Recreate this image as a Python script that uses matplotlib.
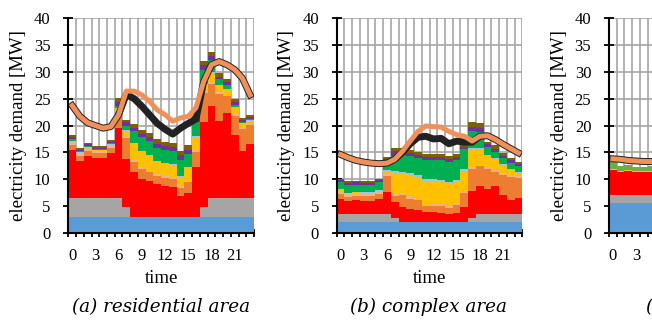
import matplotlib
matplotlib.use('Agg')
import matplotlib.pyplot as plt
import numpy as np

# hours of the day
hours = list(range(24))
tickHours = [0, 3, 6, 9, 12, 15, 18, 21]

# layer colours, bottom to top
layerColors = ['#5B9BD5', '#A5A5A5', '#FF0000', '#ED7D31', '#F4B183',
               '#FFC000', '#9DC3E6', '#00B050', '#7030A0', '#7F6000']

# (a) residential area, demand of each layer [MW]
resBlue = [3.0]*24
resGray = [3.5, 3.5, 3.5, 3.5, 3.5, 3.5, 3.5, 1.8, 0, 0, 0, 0,
           0, 0, 0, 0, 0, 1.8, 3.5, 3.5, 3.5, 3.5, 3.5, 3.5]
resRed = [9.0, 6.9, 7.9, 7.4, 7.4, 8.4, 13.1, 9.0, 8.4, 7.0, 6.6, 6.1,
          5.8, 5.5, 3.9, 4.4, 9.2, 15.9, 17.1, 14.4, 15.8, 11.8, 8.8, 10.1]
resOrange = [0.9, 0.9, 0.9, 0.9, 0.9, 0.9, 3.0, 3.8, 1.8, 2.0, 1.7, 1.5,
             1.5, 1.5, 1.5, 2.0, 2.9, 5.3, 4.1, 4.9, 3.1, 3.5, 4.0, 3.5]
resSalmon = [0.5, 0.5, 0.5, 0.5, 0.5, 0.5, 0.4, 0.4, 0.4, 0.3, 0.3, 0.3,
             0.3, 0.3, 0.3, 0.3, 0.3, 0.5, 0.3, 0.4, 0.3, 0.4, 0.5, 0.4]
resYellow = [0.1, 0.1, 0.1, 0.1, 0.1, 0.1, 0.2, 1.0, 3.0, 2.7, 2.7, 2.3,
             2.2, 2.3, 1.6, 2.4, 2.3, 1.0, 1.6, 1.1, 0.9, 1.1, 0.5, 0.4]
resLightBlue = [0.1, 0.1, 0.1, 0.1, 0.1, 0.1, 0.1, 0.1, 0.2, 0.2, 0.2, 0.2,
                0.2, 0.2, 0.3, 0.2, 0.3, 0.3, 0.3, 0.2, 0.2, 0.2, 0.1, 0.1]
resGreen = [0.3, 0.2, 0.2, 0.1, 0.1, 0.2, 0.3, 0.9, 2.1, 2.6, 2.7, 2.5,
            2.5, 2.5, 3.0, 2.4, 2.6, 2.5, 2.2, 1.1, 0.8, 0.4, 0.3, 0.2]
resPurple = [0.5, 0.3, 0.3, 0.3, 0.3, 0.3, 0.7, 0.6, 0.7, 0.7, 0.7, 0.7,
             0.7, 0.7, 0.9, 0.8, 0.6, 0.9, 0.8, 0.5, 0.5, 0.5, 0.4, 0.3]
resBrown = [0.4, 0.3, 0.2, 0.2, 0.2, 0.3, 0.9, 0.5, 0.6, 0.6, 0.7, 0.8,
            0.8, 0.8, 0.8, 0.8, 0.6, 0.8, 0.8, 0.6, 0.5, 0.5, 0.3, 0.4]
resOrangeLine = [23.7, 21.7, 20.5, 20.0, 19.5, 19.8, 22.0, 26.4, 26.4, 25.7, 24.5, 22.9,
                 22.0, 20.8, 21.4, 21.7, 23.3, 28.2, 31.3, 31.9, 31.3, 30.4, 28.8, 25.7]
resBlackLine = [23.7, 21.7, 20.5, 20.0, 19.5, 19.8, 22.0, 25.8, 25.0, 23.6, 22.0, 20.4,
                19.3, 18.4, 19.5, 20.4, 21.2, 28.2, 31.3, 31.9, 31.3, 30.4, 28.8, 25.7]

# (b) complex area
cpxBlue = [2.0]*24
cpxGray = [1.6, 1.6, 1.6, 1.6, 1.6, 1.6, 1.6, 0.8, 0, 0, 0, 0,
           0, 0, 0, 0, 0, 0.8, 1.6, 1.6, 1.6, 1.6, 1.6, 1.6]
cpxRed = [2.8, 2.3, 2.5, 2.4, 2.4, 2.8, 4.0, 2.9, 2.8, 2.4, 2.2, 2.0,
          1.9, 1.8, 1.5, 1.7, 2.8, 5.0, 5.2, 4.6, 5.1, 3.5, 2.5, 3.0]
cpxOrange = [0.8, 0.8, 0.8, 0.8, 0.8, 0.9, 3.0, 1.1, 2.2, 2.0, 1.9, 1.0,
             1.2, 1.3, 1.2, 1.5, 2.6, 4.2, 3.6, 3.7, 2.7, 3.7, 4.4, 3.6]
cpxSalmon = [0.7, 0.6, 0.6, 0.6, 0.6, 0.5, 0.5, 0.4, 0.4, 0.4, 0.3, 0.3,
             0.3, 0.3, 0.3, 0.3, 0.3, 0.3, 0.3, 0.3, 0.3, 0.4, 0.3, 0.4]
cpxYellow = [0.1, 0.1, 0.1, 0.1, 0.1, 0.1, 0.5, 4.0, 3.6, 3.9, 3.9, 4.4,
             4.3, 4.2, 4.1, 4.1, 3.9, 3.1, 2.7, 2.1, 1.9, 1.5, 0.9, 0.5]
cpxLightBlue = [0.1, 0.1, 0.1, 0.1, 0.1, 0.1, 0.2, 0.3, 0.4, 0.4, 0.4, 0.3,
                0.3, 0.3, 0.3, 0.3, 0.4, 0.4, 0.4, 0.3, 0.3, 0.2, 0.2, 0.2]
cpxGreen = [1.3, 1.4, 1.3, 1.3, 1.3, 1.4, 1.5, 2.8, 3.2, 3.2, 3.3, 3.6,
            3.6, 3.7, 3.8, 3.7, 3.6, 3.1, 3.0, 1.4, 1.2, 1.0, 1.1, 1.2]
cpxPurple = [0.4, 0.4, 0.4, 0.4, 0.4, 0.4, 0.4, 0.9, 0.6, 0.6, 0.6, 0.6,
             0.6, 0.6, 0.6, 0.6, 0.4, 0.8, 0.8, 0.5, 0.6, 0.5, 0.5, 0.4]
cpxBrown = [0.3, 0.3, 0.3, 0.3, 0.3, 0.3, 0.4, 0.7, 0.6, 0.6, 0.5, 0.5,
            0.5, 0.5, 0.5, 0.5, 0.3, 0.9, 0.9, 0.5, 0.7, 0.4, 0.4, 0.4]
cpxOrangeLine = [14.6, 14.0, 13.5, 13.2, 13.0, 12.9, 13.0, 13.7, 15.2, 17.1, 18.9, 19.9,
                 19.8, 19.7, 18.9, 18.3, 18.0, 17.1, 18.0, 18.1, 17.4, 16.5, 15.7, 14.9]
cpxBlackLine = [14.6, 14.0, 13.5, 13.2, 13.0, 12.9, 13.0, 13.7, 15.0, 16.6, 17.8, 18.0,
                17.5, 17.6, 16.6, 17.1, 16.9, 16.9, 18.0, 18.1, 17.4, 16.5, 15.7, 14.9]

# (c) third area, only the first hours are inside the picture
thirdHours = [0, 1, 2, 3, 4, 5, 6]
thirdBlue = [5.6, 5.6, 5.6, 5.6, 5.6, 5.6, 5.6]
thirdGray = [1.5, 1.5, 1.5, 1.5, 1.5, 1.5, 1.5]
thirdRed = [4.6, 4.3, 4.5, 4.2, 4.2, 4.3, 4.4]
thirdYellow = [0.2, 0.2, 0.2, 0.2, 0.2, 0.2, 0.2]
thirdGreen = [1.3, 0.8, 0.8, 0.8, 0.8, 0.9, 0.9]
thirdOrangeLine = [13.8, 13.7, 13.5, 13.4, 13.3, 13.3, 13.2]
thirdBlackLine = [13.8, 13.7, 13.5, 13.4, 13.3, 13.3, 13.2]
thirdColors = ['#5B9BD5', '#A5A5A5', '#FF0000', '#FFC000', '#70AD47']


def drawPanel(ax, x, layers, colors, orangeLine, blackLine):
    """
    Draw one stacked demand panel with the two demand lines on top
    """
    ax.set_axisbelow(True)
    bottom = np.zeros(len(x))
    for values, color in zip(layers, colors):
        ax.bar(x, values, width=1.0, bottom=bottom, color=color, linewidth=0, zorder=2)
        bottom = bottom + np.array(values)

    # black line first so that it shows as an outline of the orange one
    ax.plot(x, blackLine, color='#222222', linewidth=5.0, solid_joinstyle='round', zorder=3)
    ax.plot(x, orangeLine, color='#F0905A', linewidth=3.6, solid_joinstyle='round', zorder=4)

    ax.set_xlim(-0.5, 23.5)
    ax.set_ylim(0, 40)
    ax.set_yticks(range(0, 41, 5))
    ax.set_xticks(np.arange(-0.5, 24, 1.0))
    ax.set_xticklabels([])
    ax.set_xticks(tickHours, minor=True)
    ax.set_xticklabels([str(h) for h in tickHours], minor=True)

    ax.tick_params(axis='x', which='major', direction='inout', length=5.5, width=1.3)
    ax.tick_params(axis='x', which='minor', length=0, pad=11, labelsize=12)
    ax.tick_params(axis='y', direction='inout', length=7.5, width=1.3, pad=9, labelsize=12)

    ax.grid(True, which='major', color='#A6A6A6', linewidth=1.2)
    for side in ['top', 'right']:
        ax.spines[side].set_visible(False)
    for side in ['left', 'bottom']:
        ax.spines[side].set_linewidth(1.5)
        ax.spines[side].set_zorder(5)

    ax.set_ylabel('electricity demand [MW]', fontsize=13.5)
    ax.yaxis.set_label_coords(-0.222, 0.5)
    ax.set_xlabel('time', fontsize=13.5)
    ax.xaxis.set_label_coords(0.5, -0.17)


def main():
    plt.rcParams['font.family'] = ['Liberation Serif', 'DejaVu Serif']
    fig = plt.figure(figsize=(6.52, 3.2), dpi=100)

    width = 185.7/652
    height = 215/320
    bottom = 87/320

    axA = fig.add_axes([68.3/652, bottom, width, height])
    drawPanel(axA, hours,
              [resBlue, resGray, resRed, resOrange, resSalmon, resYellow,
               resLightBlue, resGreen, resPurple, resBrown],
              layerColors, resOrangeLine, resBlackLine)

    axB = fig.add_axes([336.7/652, bottom, width, height])
    drawPanel(axB, hours,
              [cpxBlue, cpxGray, cpxRed, cpxOrange, cpxSalmon, cpxYellow,
               cpxLightBlue, cpxGreen, cpxPurple, cpxBrown],
              layerColors, cpxOrangeLine, cpxBlackLine)

    axC = fig.add_axes([609/652, bottom, width, height])
    drawPanel(axC, thirdHours,
              [thirdBlue, thirdGray, thirdRed, thirdYellow, thirdGreen],
              thirdColors, thirdOrangeLine, thirdBlackLine)

    # captions under the panels
    captionY = 1 - 307/320
    fig.text(161/652, captionY, '(a) residential area', fontsize=13.2,
             family='DejaVu Serif', style='italic', ha='center', va='center')
    fig.text(429/652, captionY, '(b) complex area', fontsize=13.2,
             family='DejaVu Serif', style='italic', ha='center', va='center')
    fig.text(646/652, captionY, '(c) commercial area', fontsize=13.2,
             family='DejaVu Serif', style='italic', ha='left', va='center')

    fig.savefig('out.png', dpi=100)

main()
